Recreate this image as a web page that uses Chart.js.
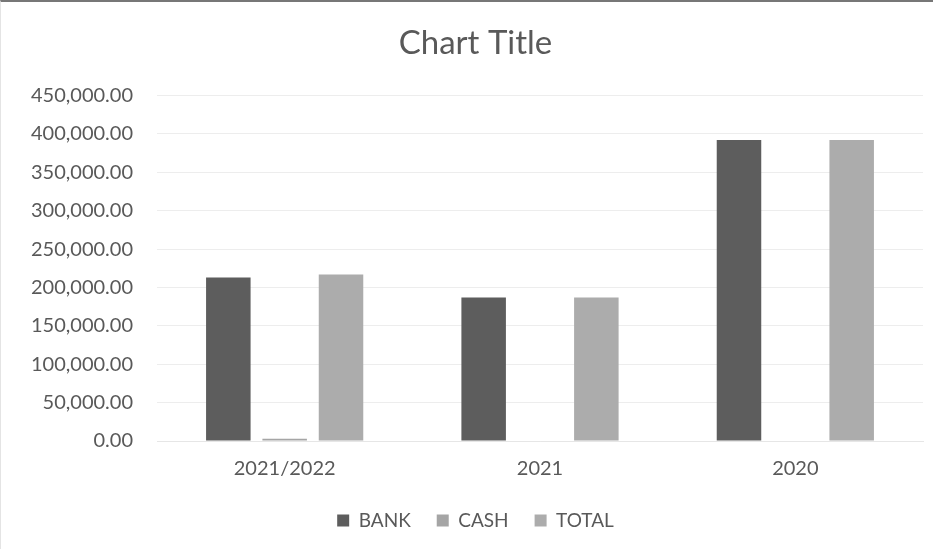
<!DOCTYPE html>
<html>
<head>
<meta charset="utf-8">
<script src="https://cdn.jsdelivr.net/npm/chart.js@4"></script>
<style>
  html, body { margin: 0; padding: 0; background: #fff; }
  #wrap { position: relative; width: 933px; height: 549px; box-sizing: border-box; border-top: 2px solid #777; border-left: 1px solid #e4e4e4; }
</style>
</head>
<body>
<div id="wrap"><canvas id="myChart"></canvas></div>
<script>
const categories = ['2021/2022', '2021', '2020'];
const bank = [213000, 187000, 392000];
const cash = [3000, 0, 0];
const total = [217000, 187000, 392000];

const ctx = document.getElementById('myChart').getContext('2d');
Chart.defaults.font.family = 'Lato, "Open Sans", sans-serif';
Chart.defaults.color = '#595959';

const chart = new Chart(ctx, {
    type: 'bar',
    data: {
        labels: categories,
        datasets: [
            { label: 'BANK', data: bank, backgroundColor: '#5d5d5d' },
            { label: 'CASH', data: cash, backgroundColor: '#a5a5a5' },
            { label: 'TOTAL', data: total, backgroundColor: '#acacac' }
        ]
    },
    options: {
        responsive: true,
        maintainAspectRatio: false,
        animation: false,
        categoryPercentage: 0.662,
        barPercentage: 0.79,
        layout: { padding: { left: 27, right: 10, top: 0, bottom: 9 } },
        plugins: {
            title: {
                display: true,
                text: 'Chart Title',
                font: { size: 33, weight: 'normal' },
                color: '#595959',
                padding: { top: 22, bottom: 32 }
            },
            legend: {
                position: 'bottom',
                labels: { boxWidth: 12, boxHeight: 12, font: { size: 19 }, padding: 26 }
            },
            tooltip: { enabled: false }
        },
        scales: {
            x: {
                grid: { display: false, drawTicks: false },
                border: { color: '#e6e6e6' },
                ticks: { font: { size: 20 }, padding: 16 },
                afterFit: scale => { scale.height -= 12; }
            },
            y: {
                min: 0,
                max: 450000,
                ticks: {
                    stepSize: 50000,
                    font: { size: 20 },
                    padding: 24,
                    callback: v => v.toLocaleString('en-US', { minimumFractionDigits: 2, maximumFractionDigits: 2 })
                },
                grid: { color: '#ededed', drawTicks: false },
                border: { display: false },
                afterFit: scale => { scale.width = 129; }
            }
        }
    }
});
</script>
</body>
</html>
